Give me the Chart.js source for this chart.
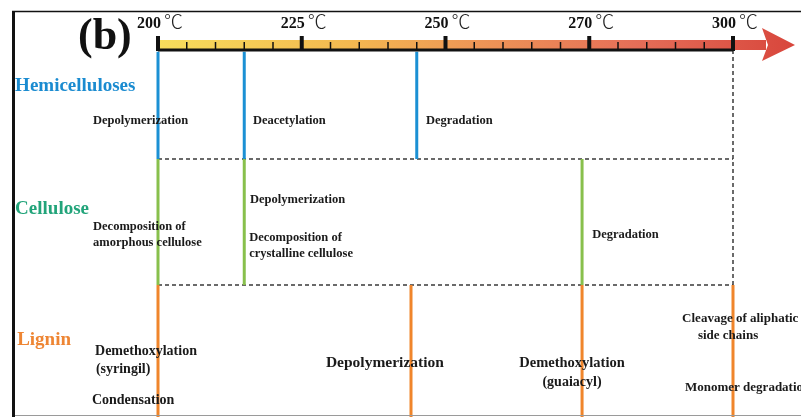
<!DOCTYPE html>
<html>
<head>
<meta charset="utf-8">
<script src="https://cdn.jsdelivr.net/npm/chart.js@4.4.1/dist/chart.umd.min.js"></script>
<style>
  html, body { margin: 0; padding: 0; background: #fff; }
  #wrap { width: 801px; height: 417px; position: relative; }
</style>
</head>
<body>
<div id="wrap"><canvas id="diagramChart"></canvas></div>
<script>
// temperature axis: majors are evenly spaced, 5 minor steps between each
var majorTemps = [200, 225, 250, 270, 300];
var stepsPerMajor = 5;

// temperatures where each component changes
var hemiTemps = [200, 215, 245];
var celluloseTemps = [200, 215, 269];
var ligninTemps = [200, 244, 269, 300];

// lanes on the y scale (0 = temperature axis, 100 = bottom)
var laneEdges = [0, 29.7, 64, 100];
var laneNames = ['Hemicelluloses', 'Cellulose', 'Lignin'];
var laneNameX = [-4.97, -4.97, -4.9];
var laneNameY = [9.8, 43.3, 79.0];
var laneColors = ['#1a8bd0', '#22a47a', '#ee8533'];
var lineColors = ['#1b90d4', '#88c04c', '#f0852b'];

// event texts: [text, x (axis steps), y, font px, align]
var hemiLabels = [
    ['Depolymerization', -2.26, 19.3, 12.5, 'left'],
    ['Deacetylation', 3.30, 19.3, 12.5, 'left'],
    ['Degradation', 9.32, 19.3, 12.5, 'left']
];
var celluloseLabels = [
    ['Depolymerization', 3.2, 40.9, 12.5, 'left'],
    ['Decomposition of', -2.26, 48.2, 12.5, 'left'],
    ['amorphous cellulose', -2.26, 52.5, 12.5, 'left'],
    ['Decomposition of', 3.17, 51.2, 12.5, 'left'],
    ['crystalline cellulose', 3.17, 55.5, 12.5, 'left'],
    ['Degradation', 15.1, 50.4, 12.5, 'left']
];
var ligninLabels = [
    ['Demethoxylation', -2.19, 82.0, 14, 'left'],
    ['(syringil)', -2.16, 86.9, 14, 'left'],
    ['Condensation', -2.3, 95.4, 14, 'left'],
    ['Depolymerization', 5.84, 85.3, 15.5, 'left'],
    ['Demethoxylation', 14.4, 85.3, 14.5, 'center'],
    ['(guaiacyl)', 14.4, 90.7, 14, 'center'],
    ['Cleavage of aliphatic', 18.23, 73.3, 13, 'left'],
    ['side chains', 18.78, 77.9, 13, 'left'],
    ['Monomer degradation', 18.33, 92.1, 13, 'left']
];

var SERIF = '"Liberation Serif", "Times New Roman", serif';

function toPos(t) {
    for (var i = 0; i < majorTemps.length - 1; i++) {
        if (t <= majorTemps[i + 1]) {
            return i * stepsPerMajor + (t - majorTemps[i]) / (majorTemps[i + 1] - majorTemps[i]) * stepsPerMajor;
        }
    }
    return (majorTemps.length - 1) * stepsPerMajor;
}

var maxPos = (majorTemps.length - 1) * stepsPerMajor;
var datasets = [];

[hemiTemps, celluloseTemps, ligninTemps].forEach(function (temps, k) {
    temps.forEach(function (t) {
        datasets.push({
            data: [{ x: toPos(t), y: laneEdges[k] + (k === 0 ? 0.5 : 0) }, { x: toPos(t), y: laneEdges[k + 1] }],
            borderColor: lineColors[k],
            borderWidth: 3,
            pointRadius: 0,
            showLine: true,
            clip: false,
            order: 0
        });
    });
});

// dashed lane separators + right border
var dashStyle = { borderColor: '#3a3a3a', borderWidth: 1.5, borderDash: [4, 3], pointRadius: 0, showLine: true, clip: false, order: 1 };
[laneEdges[1], laneEdges[2]].forEach(function (yv) {
    datasets.push(Object.assign({ data: [{ x: 0, y: yv }, { x: maxPos, y: yv }] }, dashStyle));
});
datasets.push(Object.assign({ data: [{ x: maxPos, y: 0 }, { x: maxPos, y: laneEdges[2] }] }, dashStyle));

var diagramPlugin = {
    id: 'diagram',
    afterDatasetsDraw: function (chart) {
        var ctx = chart.ctx;
        var xs = chart.scales.x, ys = chart.scales.y;
        var area = chart.chartArea;
        var px = function (v) { return xs.getPixelForValue(v); };
        var py = function (v) { return ys.getPixelForValue(v); };
        var x0 = px(0), x1 = px(maxPos);
        var base = area.top;

        ctx.save();

        // frame
        ctx.strokeStyle = '#111';
        ctx.lineWidth = 3;
        ctx.beginPath(); ctx.moveTo(13.5, 11); ctx.lineTo(13.5, chart.height); ctx.stroke();
        ctx.lineWidth = 1.5;
        ctx.beginPath(); ctx.moveTo(12, 11.5); ctx.lineTo(chart.width, 11.5); ctx.stroke();
        ctx.strokeStyle = '#9a9a9a';
        ctx.lineWidth = 1;
        ctx.beginPath(); ctx.moveTo(15, chart.height - 1.5); ctx.lineTo(chart.width, chart.height - 1.5); ctx.stroke();

        // (b)
        ctx.fillStyle = '#111';
        ctx.font = 'bold 44px ' + SERIF;
        ctx.textAlign = 'left';
        ctx.textBaseline = 'alphabetic';
        ctx.fillText('(b)', 78, 49);

        // gradient bar with arrow
        var tipX = x1 + 62, headX = x1 + 33;
        var grad = ctx.createLinearGradient(x0, 0, tipX, 0);
        grad.addColorStop(0, '#f7de5c');
        grad.addColorStop(0.3, '#f3b850');
        grad.addColorStop(0.5, '#ee9656');
        grad.addColorStop(0.75, '#e56e58');
        grad.addColorStop(1, '#d8463c');
        ctx.fillStyle = grad;
        ctx.fillRect(x0, base - 10, headX - x0, 10);
        ctx.beginPath();
        ctx.moveTo(headX - 4, base - 22);
        ctx.lineTo(tipX, base - 5);
        ctx.lineTo(headX - 4, base + 11);
        ctx.lineTo(headX + 2, base - 5);
        ctx.closePath();
        ctx.fill();

        // baseline and ticks
        ctx.strokeStyle = '#111';
        ctx.lineWidth = 3;
        ctx.beginPath(); ctx.moveTo(x0, base); ctx.lineTo(x1, base); ctx.stroke();
        for (var i = 0; i <= maxPos; i++) {
            var tx = px(i);
            ctx.beginPath();
            if (i % stepsPerMajor === 0) {
                ctx.lineWidth = 4;
                ctx.moveTo(tx, base - 14);
            } else {
                ctx.lineWidth = 1.5;
                ctx.moveTo(tx, base - 8);
            }
            ctx.lineTo(tx, base + 1);
            ctx.stroke();
        }

        // tick labels
        majorTemps.forEach(function (t, j) {
            var lx = px(j * stepsPerMajor) - 21;
            ctx.fillStyle = '#111';
            ctx.font = 'bold 16px ' + SERIF;
            ctx.fillText(String(t), lx, 28);
            var w = ctx.measureText(String(t)).width;
            ctx.font = '300 19px "Noto Sans CJK SC", "DejaVu Sans", sans-serif';
            ctx.fillStyle = '#222';
            ctx.fillText('\u2103', lx + w + 3, 29);
        });

        // lane names
        ctx.textBaseline = 'middle';
        laneNames.forEach(function (name, k) {
            ctx.fillStyle = laneColors[k];
            ctx.font = 'bold 19px ' + SERIF;
            ctx.textAlign = 'left';
            ctx.fillText(name, px(laneNameX[k]), py(laneNameY[k]));
        });

        // event labels
        ctx.fillStyle = '#1a1a1a';
        [hemiLabels, celluloseLabels, ligninLabels].forEach(function (list) {
            list.forEach(function (l) {
                ctx.font = 'bold ' + l[3] + 'px ' + SERIF;
                ctx.textAlign = l[4];
                ctx.fillText(l[0], px(l[1]), py(l[2]));
            });
        });

        ctx.restore();
    }
};

var ctx = document.getElementById('diagramChart').getContext('2d');
window.diagram = new Chart(ctx, {
    type: 'scatter',
    data: { datasets: datasets },
    options: {
        responsive: true,
        maintainAspectRatio: false,
        animation: false,
        layout: { padding: { left: 158, right: 68, top: 50, bottom: 0 } },
        scales: {
            x: { type: 'linear', min: 0, max: maxPos, display: false },
            y: { type: 'linear', min: 0, max: 100, reverse: true, display: false }
        },
        plugins: {
            legend: { display: false },
            tooltip: { enabled: false }
        }
    },
    plugins: [diagramPlugin]
});
</script>
</body>
</html>
